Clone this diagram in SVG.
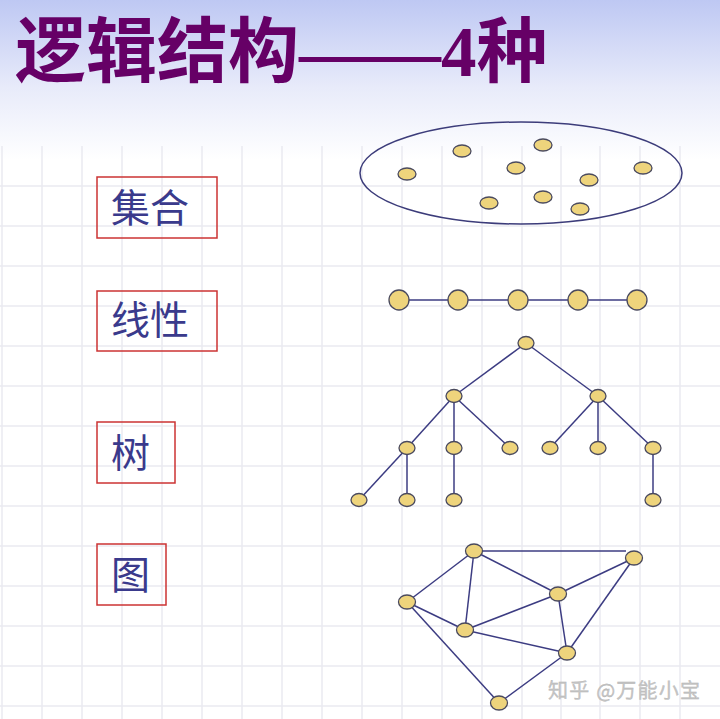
<svg xmlns="http://www.w3.org/2000/svg" width="720" height="719" viewBox="0 0 720 719">
<defs>
<linearGradient id="bg" x1="0" y1="0" x2="0" y2="1">
<stop offset="0" stop-color="#bec8f3"/>
<stop offset="0.55" stop-color="#e8ebfa"/>
<stop offset="1" stop-color="#ffffff"/>
</linearGradient>
</defs>
<style>
.grid line{stroke:#eaeaf0;stroke-width:1.5}
.lbl rect{fill:none;stroke:#cc3333;stroke-width:1.5}
.lbl text{font-family:"Noto Sans CJK SC",sans-serif;font-size:39px;fill:#3a3a8c}
.edges line{stroke:#3c3c82;stroke-width:1.5}
.nd{fill:#eed47c;stroke:#4a4a5e;stroke-width:1.3}
</style>
<rect x="0" y="0" width="720" height="719" fill="#ffffff"/>
<rect x="0" y="0" width="720" height="160" fill="url(#bg)"/>
<g class="grid">
<line x1="2" y1="146" x2="2" y2="719"/><line x1="42" y1="146" x2="42" y2="719"/><line x1="82" y1="146" x2="82" y2="719"/><line x1="122" y1="146" x2="122" y2="719"/><line x1="162" y1="146" x2="162" y2="719"/><line x1="202" y1="146" x2="202" y2="719"/><line x1="242" y1="146" x2="242" y2="719"/><line x1="282" y1="146" x2="282" y2="719"/><line x1="322" y1="146" x2="322" y2="719"/><line x1="362" y1="146" x2="362" y2="719"/><line x1="402" y1="146" x2="402" y2="719"/><line x1="442" y1="146" x2="442" y2="719"/><line x1="482" y1="146" x2="482" y2="719"/><line x1="522" y1="146" x2="522" y2="719"/><line x1="561" y1="146" x2="561" y2="719"/><line x1="600" y1="146" x2="600" y2="719"/><line x1="640" y1="146" x2="640" y2="719"/><line x1="680" y1="146" x2="680" y2="719"/>
<line x1="0" y1="186" x2="720" y2="186"/><line x1="0" y1="226" x2="720" y2="226"/><line x1="0" y1="266" x2="720" y2="266"/><line x1="0" y1="306" x2="720" y2="306"/><line x1="0" y1="346" x2="720" y2="346"/><line x1="0" y1="386" x2="720" y2="386"/><line x1="0" y1="426" x2="720" y2="426"/><line x1="0" y1="466" x2="720" y2="466"/><line x1="0" y1="506" x2="720" y2="506"/><line x1="0" y1="546" x2="720" y2="546"/><line x1="0" y1="586" x2="720" y2="586"/><line x1="0" y1="626" x2="720" y2="626"/><line x1="0" y1="666" x2="720" y2="666"/><line x1="0" y1="706" x2="720" y2="706"/>
</g>
<text id="title" x="15" y="76" font-family="'Liberation Serif','Noto Sans CJK SC',serif" font-size="71" font-weight="bold" fill="#660066">逻辑结构——4种</text>
<g id="label-set" class="lbl"><rect x="97" y="177" width="120" height="61"/><text x="111" y="222">集合</text></g>
<g id="label-linear" class="lbl"><rect x="97" y="291" width="120" height="60"/><text x="111" y="334">线性</text></g>
<g id="label-tree" class="lbl"><rect x="97" y="422" width="78" height="61"/><text x="111" y="467">树</text></g>
<g id="label-graph" class="lbl"><rect x="97" y="544" width="69" height="61"/><text x="111" y="589">图</text></g>
<g id="set">
<ellipse cx="521" cy="173" rx="161" ry="51" fill="none" stroke="#3c3c7a" stroke-width="1.5"/>
<ellipse class="nd" cx="462" cy="151" rx="9" ry="6"/>
<ellipse class="nd" cx="543" cy="145" rx="9" ry="6"/>
<ellipse class="nd" cx="407" cy="174" rx="9" ry="6"/>
<ellipse class="nd" cx="516" cy="168" rx="9" ry="6"/>
<ellipse class="nd" cx="643" cy="168" rx="9" ry="6"/>
<ellipse class="nd" cx="589" cy="180" rx="9" ry="6"/>
<ellipse class="nd" cx="489" cy="203" rx="9" ry="6"/>
<ellipse class="nd" cx="543" cy="197" rx="9" ry="6"/>
<ellipse class="nd" cx="580" cy="209" rx="9" ry="6"/>
</g>
<g class="edges" id="connectors">
<line x1="399" y1="300" x2="637" y2="300"/>
<line x1="526" y1="343" x2="454" y2="396"/><line x1="526" y1="343" x2="598" y2="396"/>
<line x1="454" y1="396" x2="407" y2="448"/><line x1="454" y1="396" x2="454" y2="448"/><line x1="454" y1="396" x2="510" y2="448"/>
<line x1="598" y1="396" x2="550" y2="448"/><line x1="598" y1="396" x2="598" y2="448"/><line x1="598" y1="396" x2="653" y2="448"/>
<line x1="407" y1="448" x2="359" y2="500"/><line x1="407" y1="448" x2="407" y2="500"/><line x1="454" y1="448" x2="454" y2="500"/><line x1="653" y1="448" x2="653" y2="500"/>
<line x1="474" y1="551" x2="626" y2="551"/>
<line x1="474" y1="551" x2="407" y2="602"/>
<line x1="474" y1="551" x2="465" y2="630"/>
<line x1="474" y1="551" x2="558" y2="594"/>
<line x1="407" y1="602" x2="465" y2="630"/>
<line x1="407" y1="602" x2="499" y2="703"/>
<line x1="558" y1="594" x2="465" y2="630"/>
<line x1="558" y1="594" x2="567" y2="653"/>
<line x1="465" y1="630" x2="567" y2="653"/>
<line x1="567" y1="653" x2="499" y2="703"/>
<line x1="634" y1="558" x2="567" y2="653"/>
<line x1="634" y1="558" x2="558" y2="594"/>
</g>
<g id="linear">
<circle class="nd" cx="399" cy="300" r="10"/><circle class="nd" cx="458" cy="300" r="10"/><circle class="nd" cx="518" cy="300" r="10"/><circle class="nd" cx="578" cy="300" r="10"/><circle class="nd" cx="637" cy="300" r="10"/>
</g>
<g id="tree">
<ellipse class="nd" cx="526" cy="343" rx="8" ry="6.5"/>
<ellipse class="nd" cx="454" cy="396" rx="8" ry="6.5"/><ellipse class="nd" cx="598" cy="396" rx="8" ry="6.5"/>
<ellipse class="nd" cx="407" cy="448" rx="8" ry="6.5"/><ellipse class="nd" cx="454" cy="448" rx="8" ry="6.5"/><ellipse class="nd" cx="510" cy="448" rx="8" ry="6.5"/><ellipse class="nd" cx="550" cy="448" rx="8" ry="6.5"/><ellipse class="nd" cx="598" cy="448" rx="8" ry="6.5"/><ellipse class="nd" cx="653" cy="448" rx="8" ry="6.5"/>
<ellipse class="nd" cx="359" cy="500" rx="8" ry="6.5"/><ellipse class="nd" cx="407" cy="500" rx="8" ry="6.5"/><ellipse class="nd" cx="454" cy="500" rx="8" ry="6.5"/><ellipse class="nd" cx="653" cy="500" rx="8" ry="6.5"/>
</g>
<g id="graph">
<ellipse class="nd" cx="474" cy="551" rx="8.5" ry="7"/>
<ellipse class="nd" cx="634" cy="558" rx="8.5" ry="7"/>
<ellipse class="nd" cx="407" cy="602" rx="8.5" ry="7"/>
<ellipse class="nd" cx="558" cy="594" rx="8.5" ry="7"/>
<ellipse class="nd" cx="465" cy="630" rx="8.5" ry="7"/>
<ellipse class="nd" cx="567" cy="653" rx="8.5" ry="7"/>
<ellipse class="nd" cx="499" cy="703" rx="8.5" ry="7"/>
</g>
<text id="watermark" x="548" y="698" font-family="'Noto Sans CJK SC',sans-serif" font-size="20" fill="#c6c6c6" stroke="#b0b0b0" stroke-width="0.3" textLength="152">知乎 @万能小宝</text>
</svg>
